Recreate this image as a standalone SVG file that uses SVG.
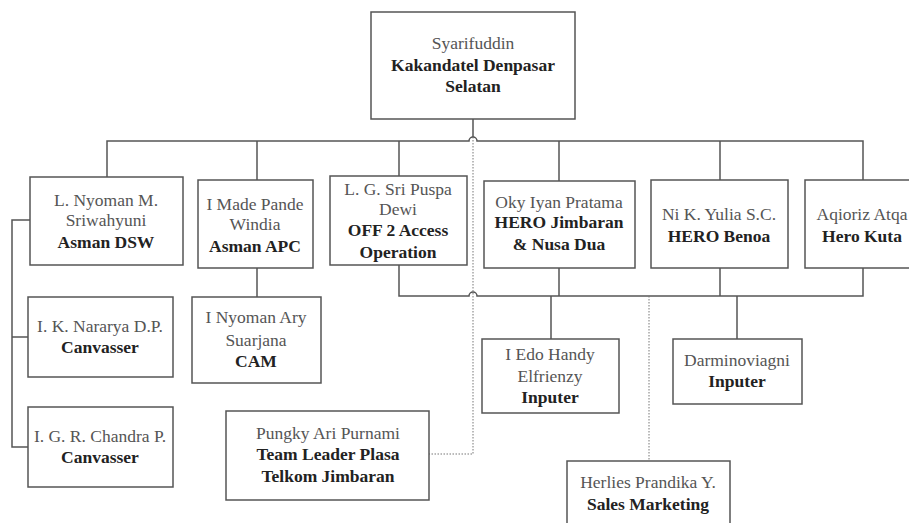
<svg xmlns="http://www.w3.org/2000/svg" width="909" height="523" viewBox="0 0 909 523" font-family="Liberation Serif, DejaVu Serif, serif">
<style>
.box{fill:#fff;stroke:#555;stroke-width:1.5}
.ln{fill:none;stroke:#555;stroke-width:1.5}
.dot{fill:none;stroke:#777;stroke-width:1;stroke-dasharray:1.5 1.5}
text{font-size:17.5px;text-anchor:middle}
.r{fill:#555}
.b{fill:#222;font-weight:bold}
</style>
<rect width="909" height="523" fill="#fff"/>
<g id="connectors">
<line class="ln" x1="473" y1="119" x2="473" y2="137" stroke-width="1"/>
<path class="ln" d="M107,177 V141 H469 A4,4 0 0 1 477,141 H863 V180"/>
<line class="ln" x1="257" y1="141" x2="257" y2="180"/>
<line class="ln" x1="399" y1="141" x2="399" y2="176"/>
<line class="ln" x1="559" y1="141" x2="559" y2="181"/>
<line class="ln" x1="720" y1="141" x2="720" y2="180"/>
<path class="ln" d="M399,265 V296 H469 A4,4 0 0 1 477,296 H863 V268"/>
<line class="ln" x1="559" y1="268" x2="559" y2="296"/>
<line class="ln" x1="720" y1="268" x2="720" y2="296"/>
<line class="ln" x1="551" y1="296" x2="551" y2="339"/>
<line class="ln" x1="737" y1="296" x2="737" y2="339"/>
<line class="ln" x1="257" y1="268" x2="257" y2="297"/>
<path class="ln" d="M30,220 H12 V447 H28 M12,337 H28"/>
<path class="dot" d="M473,137 V454 H429"/>
<line class="dot" x1="649" y1="296" x2="649" y2="461"/>
</g>
<g id="n-syarifuddin">
<rect class="box" x="371" y="12" width="204" height="107"/>
<text class="r" x="473" y="49">Syarifuddin</text>
<text class="b" x="473" y="71">Kakandatel Denpasar</text>
<text class="b" x="473" y="92">Selatan</text>
</g>
<g id="n-nyoman-m">
<rect class="box" x="30" y="177" width="153" height="88"/>
<text class="r" x="106" y="206">L. Nyoman M.</text>
<text class="r" x="106" y="226">Sriwahyuni</text>
<text class="b" x="106" y="248">Asman DSW</text>
</g>
<g id="n-made-pande">
<rect class="box" x="198" y="180" width="115" height="88"/>
<text class="r" x="255" y="210">I Made Pande</text>
<text class="r" x="255" y="230">Windia</text>
<text class="b" x="255" y="252">Asman APC</text>
</g>
<g id="n-sri-puspa">
<rect class="box" x="330" y="176" width="137" height="89"/>
<text class="r" x="398" y="195">L. G. Sri Puspa</text>
<text class="r" x="398" y="215">Dewi</text>
<text class="b" x="398" y="236">OFF 2 Access</text>
<text class="b" x="398" y="258">Operation</text>
</g>
<g id="n-oky">
<rect class="box" x="484" y="181" width="151" height="87"/>
<text class="r" x="559" y="208">Oky Iyan Pratama</text>
<text class="b" x="559" y="228">HERO Jimbaran</text>
<text class="b" x="559" y="250">&amp; Nusa Dua</text>
</g>
<g id="n-yulia">
<rect class="box" x="651" y="180" width="137" height="88"/>
<text class="r" x="719" y="220">Ni K. Yulia S.C.</text>
<text class="b" x="719" y="242">HERO Benoa</text>
</g>
<g id="n-aqioriz">
<rect class="box" x="805" y="180" width="115" height="88"/>
<text class="r" x="862" y="220">Aqioriz Atqa</text>
<text class="b" x="862" y="242">Hero Kuta</text>
</g>
<g id="n-nararya">
<rect class="box" x="28" y="297" width="145" height="80"/>
<text class="r" x="100" y="332">I. K. Nararya D.P.</text>
<text class="b" x="100" y="353">Canvasser</text>
</g>
<g id="n-chandra">
<rect class="box" x="28" y="407" width="145" height="80"/>
<text class="r" x="100" y="442">I. G. R. Chandra P.</text>
<text class="b" x="100" y="463">Canvasser</text>
</g>
<g id="n-nyoman-ary">
<rect class="box" x="192" y="297" width="129" height="86"/>
<text class="r" x="256" y="323">I Nyoman Ary</text>
<text class="r" x="256" y="346">Suarjana</text>
<text class="b" x="256" y="367">CAM</text>
</g>
<g id="n-pungky">
<rect class="box" x="226" y="411" width="203" height="89"/>
<text class="r" x="328" y="439">Pungky Ari Purnami</text>
<text class="b" x="328" y="460">Team Leader Plasa</text>
<text class="b" x="328" y="482">Telkom Jimbaran</text>
</g>
<g id="n-edo">
<rect class="box" x="482" y="339" width="137" height="74"/>
<text class="r" x="550" y="360">I Edo Handy</text>
<text class="r" x="550" y="382">Elfrienzy</text>
<text class="b" x="550" y="403">Inputer</text>
</g>
<g id="n-darminoviagni">
<rect class="box" x="673" y="339" width="129" height="65"/>
<text class="r" x="737" y="366">Darminoviagni</text>
<text class="b" x="737" y="387">Inputer</text>
</g>
<g id="n-herlies">
<rect class="box" x="567" y="461" width="163" height="70"/>
<text class="r" x="648" y="488">Herlies Prandika Y.</text>
<text class="b" x="648" y="510">Sales Marketing</text>
</g>
</svg>
